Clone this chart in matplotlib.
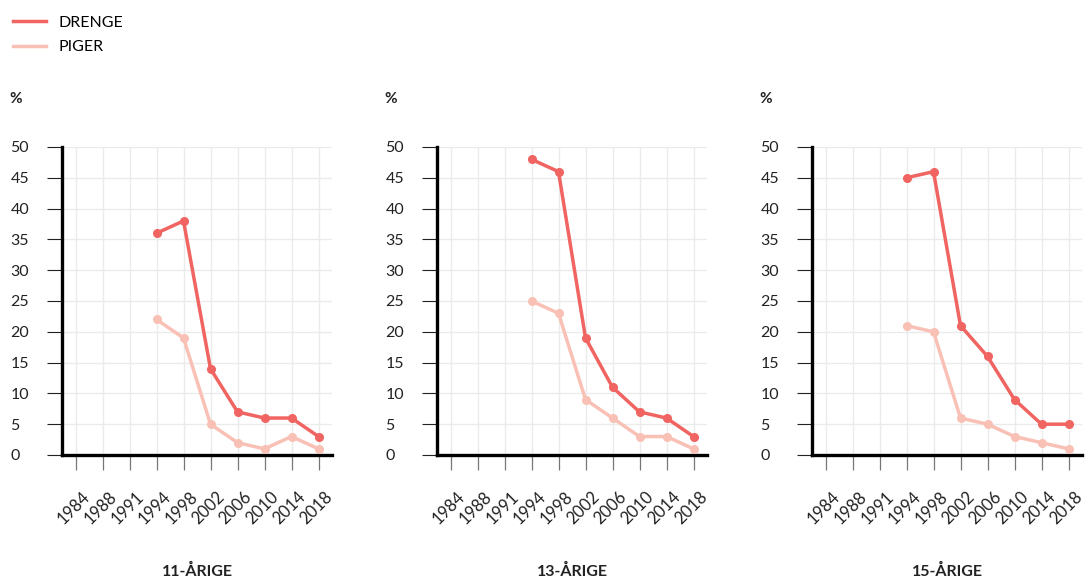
import matplotlib.pyplot as plt
import matplotlib.transforms as mtransforms
from matplotlib.lines import Line2D

plt.rcParams['font.family'] = ['Lato', 'DejaVu Sans']

years = ['1984', '1988', '1991', '1994', '1998', '2002', '2006', '2010', '2014', '2018']
data_years = ['1994', '1998', '2002', '2006', '2010', '2014', '2018']
titles = ['11-ÅRIGE', '13-ÅRIGE', '15-ÅRIGE']

drenge_11 = [36, 38, 14, 7, 6, 6, 3]
piger_11 = [22, 19, 5, 2, 1, 3, 1]
drenge_13 = [48, 46, 19, 11, 7, 6, 3]
piger_13 = [25, 23, 9, 6, 3, 3, 1]
drenge_15 = [45, 46, 21, 16, 9, 5, 5]
piger_15 = [21, 20, 6, 5, 3, 2, 1]

drenge = [drenge_11, drenge_13, drenge_15]
piger = [piger_11, piger_13, piger_15]

c_drenge = '#f06461'
c_piger = '#f9c1b5'

fig = plt.figure(figsize=(10.85, 5.81), dpi=100)

# panel placement in pixels
W, H = 1085, 581
lefts = [62, 437, 812]
for i, left in enumerate(lefts):
    ax = fig.add_axes([left / W, (H - 455) / H, 270 / W, 308 / H])
    xpos = [years.index(y) for y in data_years]
    ax.plot(xpos, piger[i], color=c_piger, lw=2.5, marker='o', ms=5.5, zorder=3)
    ax.plot(xpos, drenge[i], color=c_drenge, lw=2.5, marker='o', ms=5.5, zorder=4)

    ax.set_xlim(-0.5, len(years) - 0.5)
    ax.set_ylim(0, 50)
    ax.set_xticks(range(len(years)))
    ax.set_xticklabels(years, rotation=45, ha='right', rotation_mode='anchor', fontsize=12)
    ax.set_yticks(range(0, 51, 5))
    ax.set_yticklabels([str(v) for v in range(0, 51, 5)], fontsize=11.5, ha='left')

    ax.grid(True, color='#ebebeb', lw=1)
    ax.set_axisbelow(True)
    for s in ['top', 'right']:
        ax.spines[s].set_visible(False)
    ax.spines['left'].set_linewidth(2.4)
    ax.spines['bottom'].set_linewidth(2.4)
    ax.tick_params(axis='y', length=11, width=0.8, color='#222222', pad=26, labelcolor='#222222')
    ax.tick_params(axis='x', length=11, width=0.9, color='#777777', pad=13, labelcolor='#222222')

    # nudge rotated year labels a bit to the right
    offset = mtransforms.ScaledTranslation(6 / 100, 0, fig.dpi_scale_trans)
    for lab in ax.get_xticklabels():
        lab.set_transform(lab.get_transform() + offset)

    ax.text(-46 / 270, 1 + 48 / 308, '%', transform=ax.transAxes, fontsize=11,
            fontweight='bold', ha='center', va='center', color='#222222')
    ax.text(0.5, -116 / 308, titles[i], transform=ax.transAxes, fontsize=11.5,
            fontweight='bold', ha='center', va='center', color='#222222')

handles = [Line2D([], [], color=c_drenge, lw=2.5), Line2D([], [], color=c_piger, lw=2.5)]
fig.legend(handles, ['DRENGE', 'PIGER'], loc='upper left', bbox_to_anchor=(0.0, 0.995),
           frameon=False, fontsize=11.5, handlelength=2.1, handletextpad=0.75,
           labelspacing=0.65, borderaxespad=0.4)

fig.savefig('out.png', dpi=100)
